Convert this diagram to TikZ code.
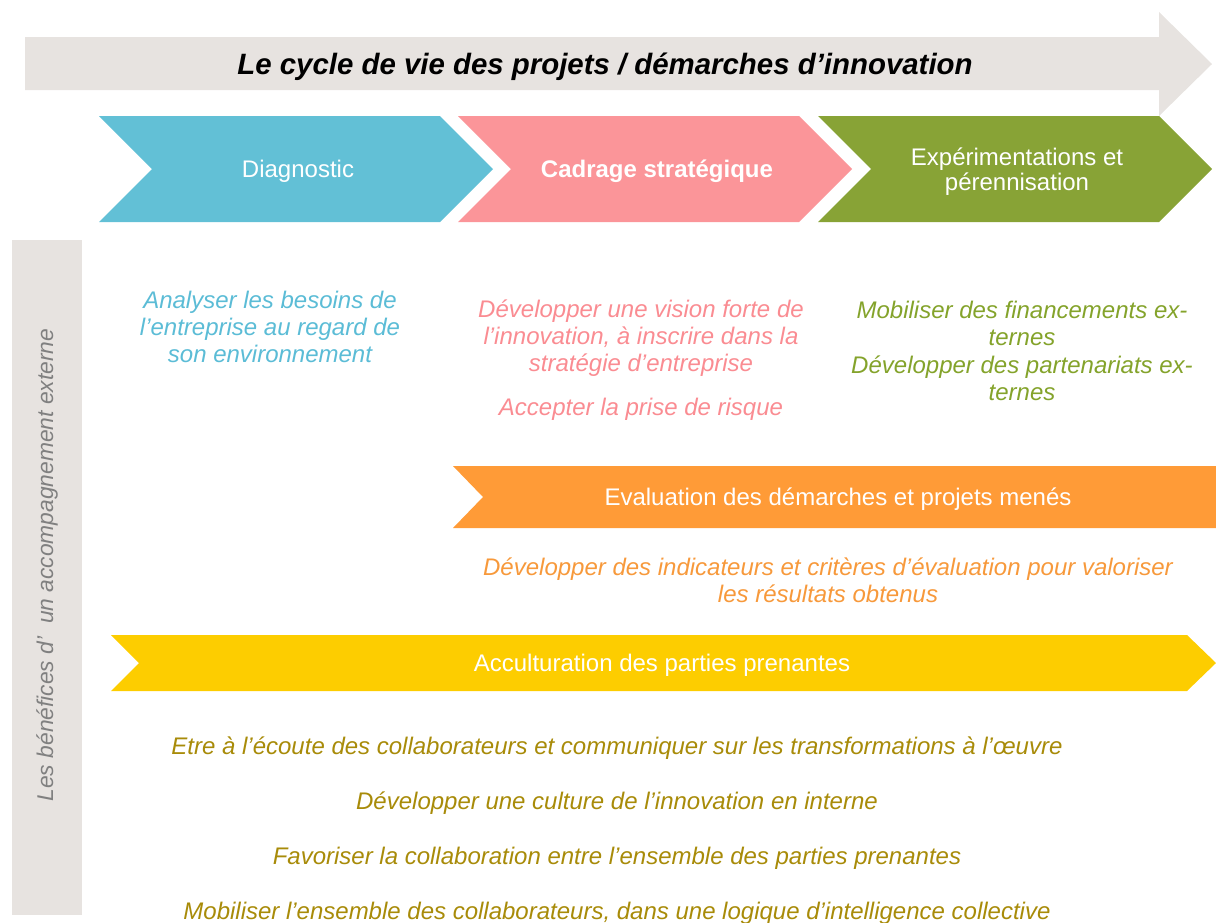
\documentclass[tikz,border=0pt]{standalone}
\usepackage{fontspec}
\setmainfont{Liberation Sans}
\usepackage{tikz}
\usetikzlibrary{positioning}
\usepackage{xcolor}
\definecolor{LGr}{RGB}{231,227,224}
\definecolor{CB}{RGB}{98,192,214}
\definecolor{CP}{RGB}{251,149,153}
\definecolor{CG}{RGB}{136,163,54}
\definecolor{CO}{RGB}{255,155,55}
\definecolor{CY}{RGB}{253,205,0}
\definecolor{TB}{RGB}{91,188,214}
\definecolor{TP}{RGB}{250,140,146}
\definecolor{TG}{RGB}{132,163,43}
\definecolor{TO}{RGB}{247,153,59}
\definecolor{TY}{RGB}{168,139,9}
\definecolor{DG}{RGB}{128,128,128}

\begin{document}
\begin{tikzpicture}[x=0.5pt, y=-0.5pt,
  phase/.style={text=white, font=\fontsize{12}{12.5}\selectfont, align=center},
  gain/.style={text=#1, font=\fontsize{12}{13.6}\selectfont\itshape, align=center},
  line/.style={text=TY, font=\fontsize{12}{13}\selectfont\itshape}
]
\useasboundingbox (0,0) rectangle (1216,922);

% big grey arrow on top
\fill[LGr] (25,37) -- (1159,37) -- (1159,12) -- (1212,64) -- (1159,116)
  -- (1159,90) -- (25,90) -- cycle;
\node[font=\fontsize{14.7}{17}\selectfont\bfseries\itshape] (cycle) at (605,67)
  {Le cycle de vie des projets / démarches d’innovation};

% the three phases
\foreach \x/\c in {99/CB, 458/CP, 818/CG}
  \fill[\c] (\x,116) -- ++(341,0) -- ++(53,53) -- ++(-53,53) -- ++(-341,0)
    -- ++(53,-53) -- cycle;
\node[phase] (diag) at (298,171) {Diagnostic};
\node[phase, font=\fontsize{12}{12.5}\selectfont\bfseries] (cadr) at (657,171) {Cadrage stratégique};
\node[phase] (expe) at (1017,172) {Expérimentations et\\pérennisation};

% side bar
\fill[LGr] (12,240) rectangle (82,915);
\node[rotate=90, text=DG, font=\fontsize{11.4}{13}\selectfont\itshape] (bene) at (47,565)
  {Les bénéfices d’~~un accompagnement externe};

% benefits per phase
\node[gain=TB] (anal) at (270,327)
  {Analyser les besoins de\\l’entreprise au regard de\\son environnement};
\node[gain=TP] (visi) at (641,338)
  {Développer une vision forte de\\l’innovation, à inscrire dans la\\stratégie d’entreprise};
\node[gain=TP] (risq) at (641,409) {Accepter la prise de risque};
\node[gain=TG] (fina) at (1022,351)
  {Mobiliser des financements ex-\\ternes\\Développer des partenariats ex-\\ternes};

% evaluation band
\fill[CO] (453,466) -- (1216,466) -- (1216,528) -- (453,528) -- (483,497) -- cycle;
\node[phase] (eval) at (838,499) {Evaluation des démarches et projets menés};
\node[gain=TO] (indi) at (828,580)
  {Développer des indicateurs et critères d’évaluation pour valoriser\\les résultats obtenus};

% acculturation band
\fill[CY] (111,635) -- (1187,635) -- (1216,663) -- (1187,691) -- (111,691)
  -- (139,663) -- cycle;
\node[phase] (accu) at (662,665) {Acculturation des parties prenantes};

\node[line] (ecou) at (617,748)
  {Etre à l’écoute des collaborateurs et communiquer sur les transformations à l’œuvre};
\node[line] (cult) at (617,803) {Développer une culture de l’innovation en interne};
\node[line] (coll) at (617,858) {Favoriser la collaboration entre l’ensemble des parties prenantes};
\node[line] (mobi) at (617,913)
  {Mobiliser l’ensemble des collaborateurs, dans une logique d’intelligence collective};
\end{tikzpicture}
\end{document}
